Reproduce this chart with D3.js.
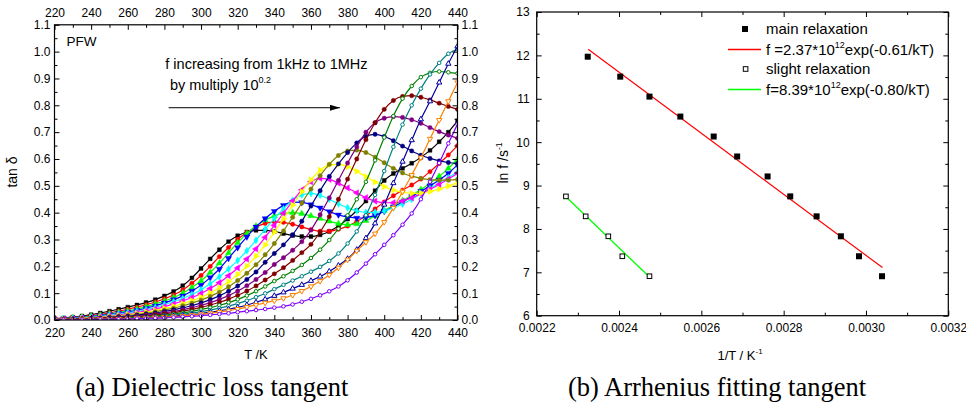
<!DOCTYPE html>
<html><head><meta charset="utf-8">
<script src="https://cdn.jsdelivr.net/npm/d3@7"></script>
<style>body{margin:0;background:#fff} svg{display:block}</style>
</head><body>
<svg id="c" width="966" height="409"></svg>
<script>
// ---------------- DATA ----------------
// Panel (a): temperature grid (K)
const temps = [220,225,230,235,240,245,250,255,260,265,270,275,280,285,290,295,300,305,310,315,320,325,330,335,340,345,350,355,360,365,370,375,380,385,390,395,400,405,410,415,420,425,430,435,440];
// tan delta, 16 frequencies 1 kHz .. 1 MHz, step 10^0.2
const tan_f00 = [.005,.008,.011,.015,.020,.026,.033,.040,.048,.056,.065,.076,.090,.106,.128,.157,.192,.228,.262,.292,.314,.328,.334,.334,.330,.322,.315,.311,.311,.317,.330,.350,.376,.408,.443,.482,.520,.546,.565,.584,.606,.632,.664,.700,.742];
const tan_f01 = [.004,.006,.009,.012,.016,.021,.027,.033,.040,.048,.057,.067,.079,.093,.112,.137,.166,.200,.236,.270,.301,.326,.346,.360,.366,.364,.357,.347,.337,.331,.331,.338,.350,.367,.388,.414,.440,.463,.484,.503,.525,.553,.583,.615,.650];
const tan_f02 = [.004,.005,.008,.011,.014,.018,.023,.028,.034,.041,.050,.060,.071,.084,.100,.121,.146,.177,.212,.250,.288,.322,.350,.372,.388,.398,.400,.396,.388,.378,.368,.359,.355,.358,.370,.388,.408,.427,.445,.464,.486,.510,.535,.565,.598];
const tan_f03 = [.003,.005,.007,.009,.012,.016,.020,.025,.030,.036,.044,.053,.064,.076,.090,.108,.130,.158,.190,.230,.270,.310,.347,.378,.405,.427,.439,.438,.430,.418,.404,.392,.384,.380,.382,.390,.405,.422,.440,.460,.480,.500,.522,.547,.578];
const tan_f04 = [.003,.004,.006,.008,.011,.014,.018,.022,.027,.032,.039,.047,.057,.068,.080,.095,.113,.135,.161,.190,.222,.258,.297,.338,.378,.414,.446,.466,.472,.465,.450,.433,.418,.407,.401,.401,.407,.418,.432,.450,.470,.490,.510,.530,.552];
const tan_f05 = [.002,.004,.005,.007,.009,.012,.015,.019,.023,.028,.034,.041,.050,.060,.071,.084,.099,.117,.139,.165,.194,.227,.265,.308,.353,.398,.443,.485,.515,.528,.524,.510,.492,.474,.456,.443,.437,.437,.443,.455,.470,.487,.505,.525,.547];
const tan_f06 = [.002,.003,.004,.006,.008,.010,.013,.016,.020,.024,.029,.035,.043,.051,.061,.072,.085,.101,.120,.143,.170,.201,.238,.280,.327,.377,.428,.478,.522,.558,.578,.580,.571,.554,.534,.514,.497,.484,.476,.472,.473,.479,.488,.499,.512];
const tan_f07 = [.002,.003,.004,.005,.007,.009,.011,.014,.017,.021,.025,.031,.037,.044,.053,.063,.074,.088,.104,.124,.147,.174,.206,.243,.285,.332,.383,.436,.488,.538,.580,.613,.630,.633,.624,.607,.586,.565,.548,.536,.528,.523,.521,.521,.524];
const tan_f08 = [.002,.002,.003,.004,.006,.007,.009,.012,.014,.018,.022,.026,.032,.038,.045,.054,.064,.076,.090,.107,.127,.151,.179,.215,.248,.280,.318,.368,.425,.482,.535,.582,.624,.660,.685,.692,.684,.668,.648,.630,.614,.602,.593,.587,.583];
const tan_f09 = [.001,.002,.003,.004,.005,.006,.008,.010,.012,.015,.018,.022,.027,.032,.038,.046,.055,.065,.077,.091,.108,.128,.151,.177,.207,.232,.260,.292,.335,.392,.455,.520,.585,.645,.700,.735,.752,.758,.755,.746,.733,.717,.702,.689,.677];
const tan_f10 = [.001,.002,.002,.003,.004,.005,.007,.008,.010,.012,.015,.019,.023,.027,.033,.039,.047,.056,.066,.078,.092,.108,.127,.149,.172,.195,.222,.251,.282,.328,.385,.450,.525,.600,.672,.735,.785,.818,.833,.836,.830,.820,.808,.796,.785];
const tan_f11 = [.001,.001,.002,.002,.003,.004,.005,.006,.008,.010,.012,.015,.018,.022,.027,.032,.039,.046,.055,.065,.077,.091,.107,.125,.145,.163,.183,.205,.231,.262,.298,.340,.390,.450,.515,.595,.680,.760,.825,.872,.905,.921,.926,.923,.919];
const tan_f12 = [.001,.001,.001,.002,.002,.003,.004,.005,.006,.008,.010,.012,.015,.018,.022,.026,.031,.037,.044,.052,.061,.072,.085,.099,.115,.131,.147,.163,.180,.198,.220,.248,.285,.330,.390,.466,.555,.645,.728,.800,.862,.915,.958,.992,1.010];
const tan_f13 = [.001,.001,.001,.001,.002,.002,.003,.004,.005,.006,.008,.010,.012,.014,.017,.020,.024,.029,.034,.040,.047,.056,.066,.077,.090,.103,.117,.131,.146,.162,.181,.203,.228,.262,.305,.360,.430,.510,.590,.670,.748,.815,.885,.955,1.020];
const tan_f14 = [.001,.001,.001,.002,.002,.003,.003,.004,.005,.006,.007,.009,.011,.013,.015,.018,.021,.025,.030,.035,.041,.048,.056,.064,.072,.081,.093,.108,.125,.145,.168,.195,.225,.258,.290,.322,.365,.418,.478,.540,.605,.675,.745,.815,.885];
const tan_f15 = [.001,.001,.001,.001,.002,.002,.003,.003,.004,.005,.006,.007,.008,.010,.012,.014,.016,.019,.022,.025,.029,.033,.037,.041,.046,.051,.058,.068,.079,.092,.107,.125,.148,.177,.210,.245,.280,.316,.355,.397,.450,.515,.585,.658,.730];
const tanSeries = [tan_f00,tan_f01,tan_f02,tan_f03,tan_f04,tan_f05,tan_f06,tan_f07,tan_f08,tan_f09,tan_f10,tan_f11,tan_f12,tan_f13,tan_f14,tan_f15];
const tTicksMajor = [220,240,260,280,300,320,340,360,380,400,420,440];
const tTicksMinor = [230,250,270,290,310,330,350,370,390,410,430];
const tanTicksMajor = [0,0.1,0.2,0.3,0.4,0.5,0.6,0.7,0.8,0.9,1.0,1.1];
const tanTicksMinor = [0.05,0.15,0.25,0.35,0.45,0.55,0.65,0.75,0.85,0.95,1.05];

// Panel (b): Arrhenius
const invT_main = [0.002324,0.002403,0.002474,0.002549,0.002630,0.002687,0.002761,0.002816,0.002880,0.002939,0.002983,0.003039];
const lnf_main  = [11.97,11.51,11.05,10.59,10.13,9.67,9.21,8.75,8.29,7.83,7.37,6.91];
const invT_slight = [0.002271,0.002319,0.002374,0.002408,0.002474];
const lnf_slight  = [8.75,8.29,7.83,7.37,6.91];
const fitMain_x = [0.002325,0.003040];
const fitMain_y = [12.14,7.11];
const fitSlight_x = [0.002271,0.002474];
const fitSlight_y = [8.74,6.89];
const invTTicksMajor = [0.0022,0.0024,0.0026,0.0028,0.0030,0.0032];
const invTTicksMinor = [0.0023,0.0025,0.0027,0.0029,0.0031];
const lnfTicksMajor = [6,7,8,9,10,11,12,13];
const lnfTicksMinor = [6.5,7.5,8.5,9.5,10.5,11.5,12.5];

// ---------------- STYLE ----------------
const FONT = "'Liberation Sans', Arial, Helvetica, sans-serif";
const SERIF = "'Liberation Serif', 'Times New Roman', serif";
const colors = ["#000000","#FF0000","#00FF00","#0000FF","#00FFFF","#FF00FF","#FFFF00","#808000","#000080","#800080","#800000","#008000","#008080","#0000A0","#FF8000","#8000FF"];
const symSpec = [
 [d3.symbolSquare,0,1],[d3.symbolCircle,0,1],[d3.symbolTriangle,0,1],[d3.symbolTriangle,180,1],
 [d3.symbolDiamond,0,1],[d3.symbolTriangle,-90,1],[d3.symbolTriangle,90,1],[d3.symbolCircle,0,1],
 [d3.symbolCircle,0,1],[d3.symbolCircle,0,1],[d3.symbolCircle,0,1],[d3.symbolCircle,0,0],
 [d3.symbolCircle,0,0],[d3.symbolTriangle,0,0],[d3.symbolTriangle,180,0],[d3.symbolCircle,0,0]];

const svg = d3.select('#c');
svg.append('rect').attr('width',966).attr('height',409).attr('fill','#fff');

function styleAxis(g, fs){
  g.selectAll('text').attr('font-family',FONT).attr('font-size',fs).attr('fill','#000');
  g.selectAll('line').attr('stroke','#000').attr('stroke-width',1);
  g.select('.domain').remove();
}

// ================= PANEL A =================
const xA = d3.scaleLinear().domain([220,440]).range([54.5,457.5]);
const yA = d3.scaleLinear().domain([0,1.1]).range([320,24.8]);
const gA = svg.append('g');

const clipA = svg.append('clipPath').attr('id','clipA').append('rect')
  .attr('x',xA(220)).attr('y',yA(1.1)).attr('width',xA(440)-xA(220)).attr('height',yA(0)-yA(1.1));
const plotA = gA.append('g').attr('clip-path','url(#clipA)');
const lineA = d3.line().x((d,i)=>xA(temps[i])).y(d=>yA(d)).curve(d3.curveMonotoneX);
tanSeries.forEach((s,k)=>{
  const g = plotA.append('g');
  g.append('path').attr('d',lineA(s)).attr('fill','none').attr('stroke',colors[k]).attr('stroke-width',1.2);
  const sp = symSpec[k];
  const sz = sp[2] ? (sp[0]===d3.symbolTriangle?17:15) : (sp[0]===d3.symbolTriangle?12:10);
  const sym = d3.symbol().type(sp[0]).size(sz);
  g.selectAll('path.m').data(s).join('path').attr('class','m')
    .attr('d',sym)
    .attr('transform',(d,i)=>`translate(${xA(temps[i])},${yA(d)}) rotate(${sp[1]})`)
    .attr('fill',sp[2]?colors[k]:'#fff')
    .attr('stroke',colors[k]).attr('stroke-width',sp[2]?0.4:1);
});

// axes
const axB = gA.append('g').attr('transform',`translate(0,${yA(0)})`)
  .call(d3.axisBottom(xA).tickValues(tTicksMajor).tickSize(-5).tickPadding(8).tickFormat(d3.format('d')));
styleAxis(axB,12);
const axBm = gA.append('g').attr('transform',`translate(0,${yA(0)})`)
  .call(d3.axisBottom(xA).tickValues(tTicksMinor).tickSize(-3).tickFormat(''));
styleAxis(axBm,12);
const axT = gA.append('g').attr('transform',`translate(0,${yA(1.1)})`)
  .call(d3.axisTop(xA).tickValues(tTicksMajor).tickSize(-5).tickPadding(8).tickFormat(d3.format('d')));
styleAxis(axT,12);
const axTm = gA.append('g').attr('transform',`translate(0,${yA(1.1)})`)
  .call(d3.axisTop(xA).tickValues(tTicksMinor).tickSize(-3).tickFormat(''));
styleAxis(axTm,12);
const axL = gA.append('g').attr('transform',`translate(${xA(220)},0)`)
  .call(d3.axisLeft(yA).tickValues(tanTicksMajor).tickSize(-5).tickPadding(4).tickFormat(d3.format('.1f')));
styleAxis(axL,12);
const axLm = gA.append('g').attr('transform',`translate(${xA(220)},0)`)
  .call(d3.axisLeft(yA).tickValues(tanTicksMinor).tickSize(-3).tickFormat(''));
styleAxis(axLm,12);
const axR = gA.append('g').attr('transform',`translate(${xA(440)},0)`)
  .call(d3.axisRight(yA).tickValues(tanTicksMajor).tickSize(-5).tickPadding(4).tickFormat(d3.format('.1f')));
styleAxis(axR,12);
const axRm = gA.append('g').attr('transform',`translate(${xA(440)},0)`)
  .call(d3.axisRight(yA).tickValues(tanTicksMinor).tickSize(-3).tickFormat(''));
styleAxis(axRm,12);
gA.append('rect').attr('x',xA(220)).attr('y',yA(1.1)).attr('width',xA(440)-xA(220)).attr('height',yA(0)-yA(1.1))
  .attr('fill','none').attr('stroke','#000').attr('stroke-width',1.2);

// annotations
gA.append('text').attr('x',xA(226.6)).attr('y',yA(1.02)).text('PFW')
  .attr('font-family',FONT).attr('font-size',13.5);
gA.append('text').attr('x',xA(280.5)).attr('y',yA(0.935)).text('f increasing from 1kHz to 1MHz')
  .attr('font-family',FONT).attr('font-size',14.5);
const t2 = gA.append('text').attr('x',xA(283)).attr('y',yA(0.858)).attr('font-family',FONT).attr('font-size',14.5);
t2.append('tspan').text('by multiply 10');
t2.append('tspan').attr('dy',-7).attr('font-size',9).text('0.2');
svg.append('defs').append('marker').attr('id','arr').attr('viewBox','0 0 10 6').attr('refX',10).attr('refY',3)
  .attr('markerWidth',10).attr('markerHeight',6).attr('markerUnits','userSpaceOnUse').attr('orient','auto')
  .append('path').attr('d','M0,0 L10,3 L0,6 Z').attr('fill','#000');
gA.append('line').attr('x1',xA(282.3)).attr('x2',xA(375.8)).attr('y1',yA(0.791)).attr('y2',yA(0.791))
  .attr('stroke','#000').attr('stroke-width',1).attr('marker-end','url(#arr)');

// axis titles
gA.append('text').attr('x',256).attr('y',359).attr('text-anchor','middle').attr('font-family',FONT).attr('font-size',13).text('T /K');
gA.append('text').attr('transform','translate(17,172) rotate(-90)').attr('text-anchor','middle')
  .attr('font-family',FONT).attr('font-size',14).text('tan δ');

// ================= PANEL B =================
svg.append('rect').attr('x',479).attr('y',0).attr('width',487).attr('height',409).attr('fill','#fff');
const gB = svg.append('g');
const xB = d3.scaleLinear().domain([0.0022,0.0032]).range([536.7,948.3]);
const yB = d3.scaleLinear().domain([6,13]).range([315.7,12]);

const bx = gB.append('g').attr('transform',`translate(0,${yB(6)})`)
  .call(d3.axisBottom(xB).tickValues(invTTicksMajor).tickSize(-5).tickPadding(8).tickFormat(d3.format('.4f')));
styleAxis(bx,12);
const bxm = gB.append('g').attr('transform',`translate(0,${yB(6)})`)
  .call(d3.axisBottom(xB).tickValues(invTTicksMinor).tickSize(-3).tickFormat(''));
styleAxis(bxm,12);
const bxt = gB.append('g').attr('transform',`translate(0,${yB(13)})`)
  .call(d3.axisTop(xB).tickValues(invTTicksMajor).tickSize(-5).tickFormat(''));
styleAxis(bxt,12);
const bxtm = gB.append('g').attr('transform',`translate(0,${yB(13)})`)
  .call(d3.axisTop(xB).tickValues(invTTicksMinor).tickSize(-3).tickFormat(''));
styleAxis(bxtm,12);
const by = gB.append('g').attr('transform',`translate(${xB(0.0022)},0)`)
  .call(d3.axisLeft(yB).tickValues(lnfTicksMajor).tickSize(-5).tickPadding(7).tickFormat(d3.format('d')));
styleAxis(by,12);
const bym = gB.append('g').attr('transform',`translate(${xB(0.0022)},0)`)
  .call(d3.axisLeft(yB).tickValues(lnfTicksMinor).tickSize(-3).tickFormat(''));
styleAxis(bym,12);
const byr = gB.append('g').attr('transform',`translate(${xB(0.0032)},0)`)
  .call(d3.axisRight(yB).tickValues(lnfTicksMajor).tickSize(-5).tickFormat(''));
styleAxis(byr,12);
const byrm = gB.append('g').attr('transform',`translate(${xB(0.0032)},0)`)
  .call(d3.axisRight(yB).tickValues(lnfTicksMinor).tickSize(-3).tickFormat(''));
styleAxis(byrm,12);
gB.append('rect').attr('x',xB(0.0022)).attr('y',yB(13)).attr('width',xB(0.0032)-xB(0.0022)).attr('height',yB(6)-yB(13))
  .attr('fill','none').attr('stroke','#000').attr('stroke-width',1.2);

// fit lines
const lineB = d3.line().x(d=>xB(d[0])).y(d=>yB(d[1]));
gB.append('path').attr('d',lineB(fitMain_x.map((v,i)=>[v,fitMain_y[i]]))).attr('stroke','#FF0000').attr('stroke-width',1.2).attr('fill','none');
gB.append('path').attr('d',lineB(fitSlight_x.map((v,i)=>[v,fitSlight_y[i]]))).attr('stroke','#00FF00').attr('stroke-width',1.3).attr('fill','none');
// points
gB.selectAll('rect.mm').data(invT_main).join('rect').attr('class','mm')
  .attr('x',(d)=>xB(d)-3).attr('y',(d,i)=>yB(lnf_main[i])-3).attr('width',6).attr('height',6).attr('fill','#000');
gB.selectAll('rect.ms').data(invT_slight).join('rect').attr('class','ms')
  .attr('x',(d)=>xB(d)-2.3).attr('y',(d,i)=>yB(lnf_slight[i])-2.3).attr('width',4.6).attr('height',4.6)
  .attr('fill','#fff').attr('stroke','#000').attr('stroke-width',1);

// legend
const lg = gB.append('g').attr('font-family',FONT).attr('font-size',15);
lg.append('rect').attr('x',742).attr('y',26).attr('width',6).attr('height',6).attr('fill','#000');
lg.append('text').attr('x',766).attr('y',34).text('main relaxation');
lg.append('line').attr('x1',728).attr('x2',761).attr('y1',49.5).attr('y2',49.5).attr('stroke','#FF0000').attr('stroke-width',1.4);
const l2 = lg.append('text').attr('x',766).attr('y',55);
l2.append('tspan').text('f =2.37*10');
l2.append('tspan').attr('dy',-7).attr('font-size',9).text('12');
l2.append('tspan').attr('dy',7).text('exp(-0.61/kT)');
lg.append('rect').attr('x',743.3).attr('y',66.7).attr('width',4.6).attr('height',4.6).attr('fill','#fff').attr('stroke','#000');
lg.append('text').attr('x',766).attr('y',74).text('slight relaxation');
lg.append('line').attr('x1',728).attr('x2',761).attr('y1',89.5).attr('y2',89.5).attr('stroke','#00FF00').attr('stroke-width',1.6);
const l4 = lg.append('text').attr('x',766).attr('y',95);
l4.append('tspan').text('f=8.39*10');
l4.append('tspan').attr('dy',-7).attr('font-size',9).text('12');
l4.append('tspan').attr('dy',7).text('exp(-0.80/kT)');

// axis titles
const bxTitle = gB.append('text').attr('x',740).attr('y',360).attr('text-anchor','middle').attr('font-family',FONT).attr('font-size',13);
bxTitle.append('tspan').text('1/T  / K');
bxTitle.append('tspan').attr('dy',-6).attr('font-size',8).text('-1');
const byTitle = gB.append('text').attr('transform','translate(508,163) rotate(-90)').attr('text-anchor','middle').attr('font-family',FONT).attr('font-size',14);
byTitle.append('tspan').text('ln f  /s');
byTitle.append('tspan').attr('dy',-6).attr('font-size',8.5).text('-1');

// captions
svg.append('text').attr('x',212).attr('y',396).attr('text-anchor','middle').attr('font-family',SERIF).attr('font-size',26.5).text('(a) Dielectric loss tangent');
svg.append('text').attr('x',717).attr('y',396).attr('text-anchor','middle').attr('font-family',SERIF).attr('font-size',26.5).text('(b) Arrhenius fitting tangent');
</script>
</body></html>
